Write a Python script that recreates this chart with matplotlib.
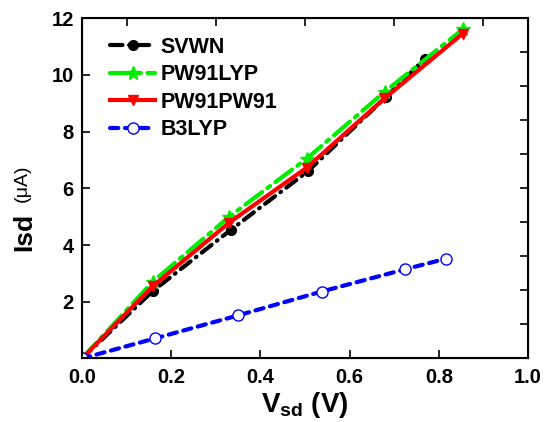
import matplotlib
matplotlib.use("Agg")
import matplotlib.pyplot as plt
from matplotlib.ticker import MultipleLocator

plt.rcParams["font.family"] = ["Liberation Sans", "DejaVu Sans"]
plt.rcParams["font.weight"] = "bold"
plt.rcParams["mathtext.default"] = "regular"

# values
svwn_x = [0.0, 0.158, 0.333, 0.507, 0.682, 0.769]
svwn_y = [0.0, 2.37, 4.53, 6.61, 9.23, 10.57]
pw91lyp_x = [0.0, 0.158, 0.330, 0.504, 0.679, 0.853]
pw91lyp_y = [0.0, 2.70, 5.00, 7.05, 9.41, 11.60]
pw91pw91_x = [0.0, 0.158, 0.330, 0.504, 0.678, 0.853]
pw91pw91_y = [0.0, 2.54, 4.79, 6.73, 9.17, 11.45]
b3lyp_x = [0.0, 0.164, 0.350, 0.537, 0.723, 0.816]
b3lyp_y = [0.0, 0.71, 1.52, 2.36, 3.14, 3.52]

fig = plt.figure(figsize=(5.45, 4.22), dpi=100)
ax = fig.add_axes([0.1505, 0.1505, 0.8185, 0.8065])

ax.plot(svwn_x, svwn_y, color="black", lw=3, ls=(0, (3, 1.6, 0.2, 1.6)),
        dash_capstyle="round", marker="o", ms=7, label="SVWN")
ax.plot(pw91lyp_x, pw91lyp_y, color="#00ee00", lw=3, ls=(0, (5, 1.6, 0.8, 1.6)),
        dash_capstyle="round", marker="*", ms=10, label="PW91LYP")
ax.plot(pw91pw91_x, pw91pw91_y, color="red", lw=3, marker="v", ms=7,
        label="PW91PW91")
ax.plot(b3lyp_x, b3lyp_y, color="blue", lw=3, ls=(0, (2, 1.6)),
        dash_capstyle="round", marker="o", ms=8, mfc="white", mew=1,
        label="B3LYP")

ax.set_xlim(0, 1.0)
ax.set_ylim(0, 12)
ax.set_xticks([0.0, 0.2, 0.4, 0.6, 0.8, 1.0])
ax.set_yticks([2, 4, 6, 8, 10, 12])
ax.xaxis.set_minor_locator(MultipleLocator(0.1))
ax.tick_params(which="major", direction="in", length=6, width=1.2,
               labelsize=14.5, top=False)
ax.tick_params(axis="y", pad=6)
ax.tick_params(axis="x", pad=7)
ax.tick_params(which="minor", direction="in", length=6, width=1.2,
               bottom=False, top=True)
ax.set_xticklabels(["0.0", "0.2", "0.4", "0.6", "0.8", "1.0"], fontweight="bold")
ax.set_yticklabels(["2", "4", "6", "8", "10", "12"], fontweight="bold")
for s in ax.spines.values():
    s.set_linewidth(1.5)

axr = ax.twinx()
axr.set_ylim(0, 12)
axr.set_yticks([1.2 * i for i in range(11)])
axr.tick_params(direction="in", length=6, width=1.2, labelright=False)

ax.set_xlabel(r"V$_{sd}$ (V)", fontsize=20, fontweight="bold", labelpad=2)
fig.text(0.044, 0.450, "Isd", rotation=90, fontsize=19,
         fontweight="bold", ha="center", va="center")
fig.text(0.040, 0.566, "(\u03bcA)", rotation=90, fontsize=14,
         fontweight="normal", ha="center", va="center")

leg = ax.legend(loc="upper left", bbox_to_anchor=(0.063, 0.945), frameon=False,
                fontsize=15.5, handlelength=2.1, handletextpad=0.25,
                labelspacing=0.3, borderpad=0, borderaxespad=0)
for t in leg.get_texts():
    t.set_fontweight("bold")

fig.savefig("out.png", dpi=100)
